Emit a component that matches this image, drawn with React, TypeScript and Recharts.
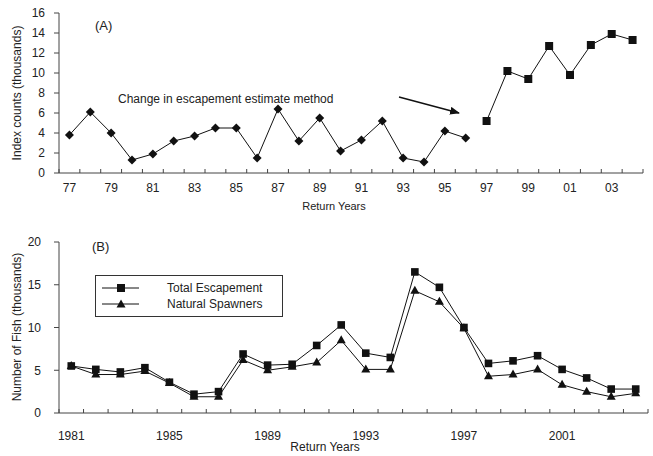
import React from "react";
import { LineChart, Line, XAxis, YAxis, Legend } from "recharts";

// (A) index counts, thousands
const indexYears = [
  "77", "78", "79", "80", "81", "82", "83", "84", "85", "86", "87", "88", "89", "90",
  "91", "92", "93", "94", "95", "96", "97", "98", "99", "00", "01", "02", "03", "04",
];
const indexCountsOld = [
  3.8, 6.1, 4.0, 1.3, 1.9, 3.2, 3.7, 4.5, 4.5, 1.5, 6.4, 3.2, 5.5, 2.2, 3.3, 5.2, 1.5, 1.1, 4.2, 3.5,
];
const indexCountsNew = [5.2, 10.2, 9.4, 12.7, 9.8, 12.8, 13.9, 13.3];
const indexTicks = [0, 2, 4, 6, 8, 10, 12, 14, 16];

// (B) number of fish, thousands
const returnYears = [
  "1981", "1982", "1983", "1984", "1985", "1986", "1987", "1988", "1989", "1990", "1991", "1992",
  "1993", "1994", "1995", "1996", "1997", "1998", "1999", "2000", "2001", "2002", "2003", "2004",
];
const totalEscapement = [
  5.5, 5.1, 4.8, 5.3, 3.6, 2.2, 2.5, 6.9, 5.6, 5.7, 7.9, 10.3,
  7.0, 6.5, 16.5, 14.7, 10.0, 5.8, 6.1, 6.7, 5.1, 4.1, 2.8, 2.8,
];
const naturalSpawners = [
  5.5, 4.5, 4.5, 4.9, 3.5, 1.9, 1.9, 6.2, 5.0, 5.4, 5.9, 8.5,
  5.1, 5.1, 14.3, 13.0, 9.9, 4.3, 4.5, 5.1, 3.3, 2.5, 1.9, 2.3,
];
const fishTicks = [0, 5, 10, 15, 20];
const legendOrder = ["total", "natural"];

const AXIS = "#444";
const INK = "#111";
const FONT = '"Liberation Sans", Arial, sans-serif';

const indexData = indexYears.map((year, i) => ({
  pos: i,
  year,
  before: i < indexCountsOld.length ? indexCountsOld[i] : null,
  after: i >= indexCountsOld.length ? indexCountsNew[i - indexCountsOld.length] : null,
}));

const fishData = returnYears.map((year, i) => ({
  pos: i,
  year,
  total: totalEscapement[i],
  natural: naturalSpawners[i],
}));

// tick marks sit between categories, labels on some categories
const xTicks = (n: number, every: number) => {
  const out: number[] = [];
  for (let i = 0; i <= n; i++) out.push(i - 0.5);
  for (let i = 0; i < n; i += every) out.push(i);
  return out.sort((a, b) => a - b);
};

const makeXTick = (labels: string[], dy: number, fontSize: number) => (props: any) => {
  const { x, y, payload, index } = props;
  const v = payload.value;
  if (!Number.isInteger(v)) {
    return <line key={`b-${index}`} x1={x} x2={x} y1={y} y2={y - 4} stroke={AXIS} />;
  }
  return (
    <text key={`t-${index}`} x={x} y={y + dy} textAnchor="middle" dominantBaseline="central" fontSize={fontSize} fill="#222">
      {labels[v]}
    </text>
  );
};

const diamond = (r: number) => (props: any) => {
  const { cx, cy, index } = props;
  if (cx == null || cy == null) return <g key={`dm-${index}`} />;
  return <path key={`dm-${index}`} d={`M${cx},${cy - r}L${cx + r},${cy}L${cx},${cy + r}L${cx - r},${cy}Z`} fill={INK} />;
};

const square = (r: number) => (props: any) => {
  const { cx, cy, index } = props;
  if (cx == null || cy == null) return <g key={`sq-${index}`} />;
  return <rect key={`sq-${index}`} x={cx - r} y={cy - r} width={2 * r} height={2 * r} fill={INK} />;
};

const triangle = (w: number, h: number) => (props: any) => {
  const { cx, cy, index } = props;
  if (cx == null || cy == null) return <g key={`tr-${index}`} />;
  return <path key={`tr-${index}`} d={`M${cx},${cy - h / 2 - 1}L${cx + w / 2},${cy + h / 2 - 1}L${cx - w / 2},${cy + h / 2 - 1}Z`} fill={INK} />;
};

const renderLegend = (props: any) => {
  const items = [...(props.payload || [])].sort(
    (a: any, b: any) => legendOrder.indexOf(a.dataKey) - legendOrder.indexOf(b.dataKey)
  );
  return (
    <div style={{ border: "1px solid #333", width: 188, height: 42, boxSizing: "border-box", position: "relative", background: "#fff" }}>
      {items.map((entry: any, i: number) => (
        <div key={entry.value} style={{ position: "absolute", left: 0, top: i === 0 ? 5 : 21, height: 14, display: "flex", alignItems: "center" }}>
          <svg width={50} height={14}>
            <line x1={6} x2={43} y1={7} y2={7} stroke={INK} />
            {entry.dataKey === "total" ? (
              <rect x={21} y={3} width={8} height={8} fill={INK} />
            ) : (
              <path d="M25,2.5L29.5,10.5L20.5,10.5Z" fill={INK} />
            )}
          </svg>
          <span style={{ marginLeft: 21, fontSize: 12, color: "#222", whiteSpace: "nowrap" }}>{entry.value}</span>
        </div>
      ))}
    </div>
  );
};

export default function App() {
  return (
    <div style={{ position: "absolute", left: 0, top: 0, width: 653, height: 456, fontFamily: FONT, background: "#fff" }}>
      <div style={{ position: "absolute", left: 0, top: 0 }}>
        <LineChart width={653} height={215} data={indexData} margin={{ top: 13, right: 10, bottom: 0, left: 0 }}>
          <XAxis
            dataKey="pos"
            type="number"
            domain={[-0.5, indexYears.length - 0.5]}
            ticks={xTicks(indexYears.length, 2)}
            interval={0}
            tick={makeXTick(indexYears, 15, 12)}
            tickLine={false}
            tickSize={0}
            tickMargin={0}
            height={42}
            stroke={AXIS}
          />
          <YAxis
            domain={[0, 16]}
            ticks={indexTicks}
            interval={0}
            width={59}
            tickSize={5}
            tickMargin={9}
            tick={{ fontSize: 12, fill: "#222" }}
            stroke={AXIS}
          />
          <Line dataKey="before" stroke={INK} strokeWidth={1} dot={diamond(4.5)} isAnimationActive={false} connectNulls={false} />
          <Line dataKey="after" stroke={INK} strokeWidth={1} dot={square(4)} isAnimationActive={false} connectNulls={false} />
        </LineChart>
      </div>
      <div style={{ position: "absolute", left: 0, top: 215 }}>
        <LineChart width={653} height={241} data={fishData} margin={{ top: 27, right: 5, bottom: 0, left: 0 }}>
          <XAxis
            dataKey="pos"
            type="number"
            domain={[-0.5, returnYears.length - 0.5]}
            ticks={xTicks(returnYears.length, 4)}
            interval={0}
            tick={makeXTick(returnYears, 23, 12)}
            tickLine={false}
            tickSize={0}
            tickMargin={0}
            height={43}
            stroke={AXIS}
          />
          <YAxis
            domain={[0, 20]}
            ticks={fishTicks}
            interval={0}
            width={59}
            tickSize={5}
            tickMargin={13}
            tick={{ fontSize: 12, fill: "#222" }}
            stroke={AXIS}
          />
          <Legend
            layout="vertical"
            align="center"
            verticalAlign="middle"
            content={renderLegend}
            wrapperStyle={{ left: 95, top: 60, width: 188, height: 42 }}
          />
          <Line name="Total Escapement" dataKey="total" stroke={INK} strokeWidth={1} dot={square(3.8)} isAnimationActive={false} />
          <Line name="Natural Spawners" dataKey="natural" stroke={INK} strokeWidth={1} dot={triangle(9, 8)} isAnimationActive={false} />
        </LineChart>
      </div>
      <svg width={653} height={456} style={{ position: "absolute", left: 0, top: 0, pointerEvents: "none" }}>
        <defs>
          <marker id="head" markerWidth="10" markerHeight="8" refX="9" refY="4" orient="auto" markerUnits="userSpaceOnUse">
            <path d="M0,0L10,4L0,8Z" fill={INK} />
          </marker>
        </defs>
        <text x={95} y={30} fontSize={13} fill="#222">(A)</text>
        <text x={118} y={103} fontSize={12} fill="#222">Change in escapement estimate method</text>
        <line x1={399} y1={97} x2={459} y2={113} stroke={INK} strokeWidth={1.5} markerEnd="url(#head)" />
        <text x={334} y={210} fontSize={11} textAnchor="middle" fill="#222">Return Years</text>
        <text transform="translate(17,93) rotate(-90)" fontSize={12} textAnchor="middle" dominantBaseline="central" fill="#222">
          Index counts (thousands)
        </text>
        <text x={92} y={251} fontSize={13} fill="#222">(B)</text>
        <text transform="translate(17,327) rotate(-90)" fontSize={12} textAnchor="middle" dominantBaseline="central" fill="#222">
          Number of Fish (thousands)
        </text>
        <text x={325} y={451} fontSize={12} textAnchor="middle" fill="#222">Return Years</text>
      </svg>
    </div>
  );
}
